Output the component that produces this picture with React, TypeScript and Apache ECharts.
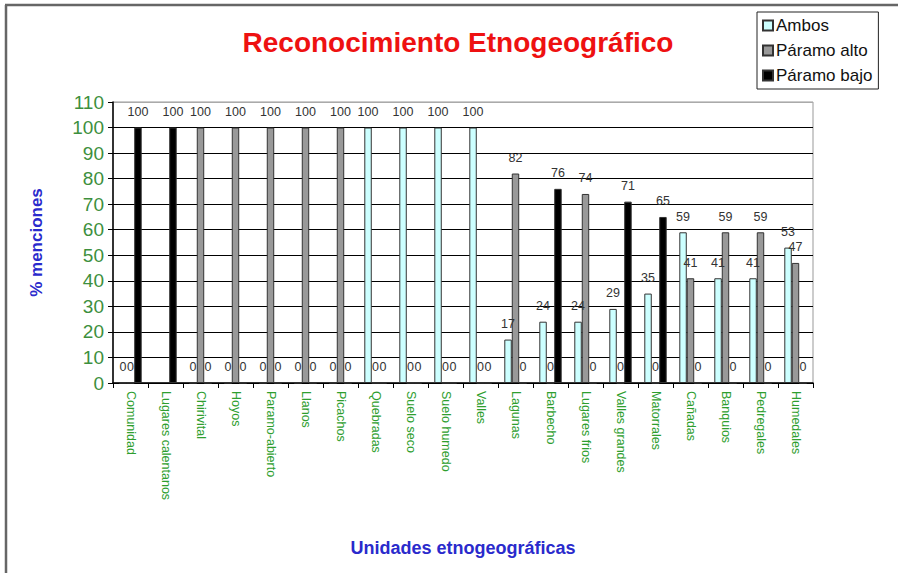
import React, { useEffect, useRef } from "react";
import * as echarts from "echarts";

const categories = [
  "Comunidad", "Lugares calentanos", "Chirivital", "Hoyos", "Paramo-abierto",
  "Llanos", "Picachos", "Quebradas", "Suelo seco", "Suelo humedo", "Valles",
  "Lagunas", "Barbecho", "Lugares frios", "Valles grandes", "Matorrales",
  "Cañadas", "Banquios", "Pedregales", "Humedales",
];
const ambos = [0, null, 0, 0, 0, 0, 0, 100, 100, 100, 100, 17, 24, 24, 29, 35, 59, 41, 41, 53];
const paramoAlto = [0, null, 100, 100, 100, 100, 100, 0, 0, 0, 0, 82, 0, 74, 0, 0, 41, 59, 59, 47];
const paramoBajo = [100, 100, 0, 0, 0, 0, 0, 0, 0, 0, 0, 0, 76, 0, 71, 65, 0, 0, 0, 0];
const yTicks = { min: 0, max: 110, interval: 10 };

const FONT = "'Liberation Sans', Arial, sans-serif";

export default function App() {
  const ref = useRef<HTMLDivElement>(null);
  useEffect(() => {
    if (!ref.current) return;
    const chart = echarts.init(ref.current, undefined, { renderer: "svg" });
    const label = {
      show: true,
      position: "top",
      distance: 9,
      color: "#333333",
      textBorderWidth: 0,
      textBorderColor: "transparent",
      fontSize: 12.5,
      fontFamily: FONT,
    };
    const mk = (name: string, data: any[], color: string) => ({
      name,
      type: "bar",
      data,
      barGap: "0%",
      barCategoryGap: "36%",
      itemStyle: { color, borderColor: "#333", borderWidth: 1 },
      label,
      labelLayout: { hideOverlap: false },
    });
    chart.setOption({
      animation: false,
      backgroundColor: "#fff",
      textStyle: { fontFamily: FONT },
      title: {
        text: "Reconocimiento Etnogeográfico",
        left: 453,
        textAlign: "center",
        top: 23,
        textStyle: { color: "#ee1111", fontSize: 28, fontWeight: "bold", fontFamily: FONT },
      },
      legend: {
        orient: "vertical",
        left: 757,
        top: 12,
        padding: [5, 6, 5, 5],
        borderColor: "#222",
        borderWidth: 1,
        itemWidth: 10,
        itemHeight: 10,
        itemGap: 8,
        icon: "rect",
        textStyle: { fontSize: 17, color: "#111", fontFamily: FONT, padding: [0, 0, 0, -2] },
        data: ["Ambos", "Páramo alto", "Páramo bajo"],
      },
      grid: {
        left: 113,
        right: 85,
        top: 102,
        bottom: 190,
        show: true,
        borderColor: "#999",
        borderWidth: 1,
        backgroundColor: "#fff",
        containLabel: false,
      },
      xAxis: {
        type: "category",
        data: categories,
        name: "Unidades etnogeográficas",
        nameLocation: "middle",
        nameGap: 156,
        nameTextStyle: { color: "#2a2acc", fontSize: 18, fontWeight: "bold", fontFamily: FONT },
        axisLine: { lineStyle: { color: "#000", width: 1.5 } },
        axisTick: { show: true, length: 5, lineStyle: { color: "#000" } },
        axisLabel: {
          rotate: -90,
          margin: 8,
          color: "#2e9e2e",
          fontSize: 12.5,
          fontFamily: FONT,
          interval: 0,
        },
      },
      yAxis: {
        type: "value",
        min: yTicks.min,
        max: yTicks.max,
        interval: yTicks.interval,
        name: "% menciones",
        nameLocation: "middle",
        nameRotate: 90,
        nameGap: 68,
        nameTextStyle: { color: "#2a2acc", fontSize: 17, fontWeight: "bold", fontFamily: FONT },
        axisLine: { show: true, lineStyle: { color: "#000", width: 1.5 } },
        axisTick: { show: true, length: 5, lineStyle: { color: "#000" } },
        axisLabel: { color: "#3d8f3d", fontSize: 19, margin: 9, fontFamily: FONT },
        splitLine: {
          show: true,
          lineStyle: {
            color: ["#000", "#000", "#000", "#000", "#000", "#000", "#000", "#000", "#000", "#000", "#000", "#aaa"],
            width: 1.2,
          },
        },
      },
      graphic: [
        { type: "line", shape: { x1: 5, y1: 5, x2: 898, y2: 5 }, style: { stroke: "#666", lineWidth: 2.5 } },
        { type: "line", shape: { x1: 6, y1: 5, x2: 6, y2: 573 }, style: { stroke: "#666", lineWidth: 2.5 } },
      ],
      series: [
        mk("Ambos", ambos, "#ccffff"),
        mk("Páramo alto", paramoAlto, "#999999"),
        mk("Páramo bajo", paramoBajo, "#000000"),
      ],
    });
    return () => chart.dispose();
  }, []);
  return (
    <div
      ref={ref}
      style={{ position: "absolute", left: 0, top: 0, width: 898, height: 573 }}
    />
  );
}
